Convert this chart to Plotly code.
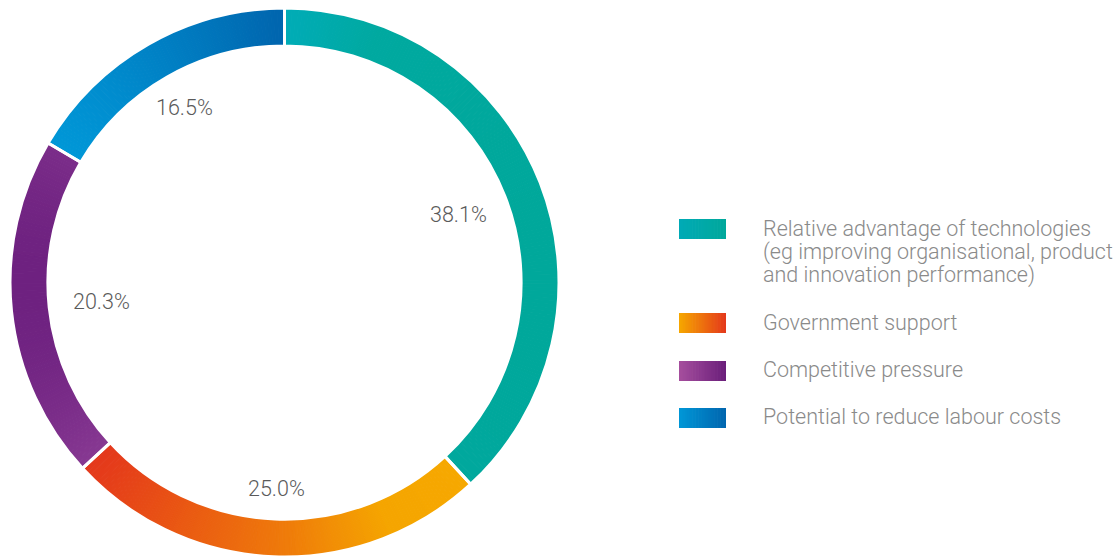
import numpy as np
import plotly.graph_objects as go

# ---- data -------------------------------------------------------------
categories = [
    "Relative advantage of technologies (eg improving organisational, product and innovation performance)",
    "Government support",
    "Competitive pressure",
    "Potential to reduce labour costs",
]
legend_lines = [
    ["Relative advantage of technologies",
     "(eg improving organisational, product",
     "and innovation performance)"],
    ["Government support"],
    ["Competitive pressure"],
    ["Potential to reduce labour costs"],
]
shares = [38.1, 25.0, 20.3, 16.5]

# ---- styling ----------------------------------------------------------
W, H = 1118, 557
CX, CY, R = 284.5, 282.5, 274.5          # donut centre / outer radius (px)
HOLE = 0.862

# horizontal colour ramps used on the ring (t = 0 at the left-most point)
ring_stops = [
    [(0.0, "#00acb7"), (0.35, "#00a9a0"), (1.0, "#00a89b")],
    [(0.0, "#e4381b"), (0.25, "#ea5a12"), (0.53, "#ef7c0a"), (0.8, "#f5a500"), (1.0, "#f6a800")],
    [(0.0, "#6e2180"), (1.0, "#873892")],
    [(0.0, "#0097d7"), (1.0, "#0065ae")],
]
# ramps used on the legend swatches (left -> right)
swatch_stops = [
    [(0.0, "#00aab6"), (1.0, "#00a89b")],
    [(0.0, "#f6a800"), (1.0, "#e4381b")],
    [(0.0, "#a64f9e"), (1.0, "#6a1e7a")],
    [(0.0, "#0097d7"), (1.0, "#0065ae")],
]
label_radius = [187, 206, 184, 202]        # px from centre for the % labels
swatch_top = [219, 313, 361, 408]           # px
text_mid = [[228.5, 251.5, 274.5], [322], [369.5], [416.5]]


def hex_rgb(h):
    h = h.lstrip("#")
    return np.array([int(h[i:i + 2], 16) for i in (0, 2, 4)], dtype=float)


def ramp(stops, t):
    t = min(max(t, 0.0), 1.0)
    for (t0, c0), (t1, c1) in zip(stops[:-1], stops[1:]):
        if t <= t1:
            f = 0 if t1 == t0 else (t - t0) / (t1 - t0)
            c = hex_rgb(c0) * (1 - f) + hex_rgb(c1) * f
            return "rgb(%d,%d,%d)" % tuple(np.round(c))
    c = hex_rgb(stops[-1][1])
    return "rgb(%d,%d,%d)" % tuple(c)


def px(x):
    return x / W


def py(y):
    return 1 - y / H


total = sum(shares)
domain = dict(x=[px(CX - R), px(CX + R)], y=[0, (2 * R) / H])

# ---- gradient ring: each share drawn as many thin wedges ---------------
STEP = 0.2
sub_vals, sub_cols = [], []
start = 0.0
for v, stops in zip(shares, ring_stops):
    n = max(2, int(round(v / STEP)))
    piece = v / n
    mids = [np.sin(2 * np.pi * (start + (k + 0.5) * piece) / total) for k in range(n)]
    lo, hi = min(mids), max(mids)
    for m in mids:
        sub_vals.append(piece)
        sub_cols.append(ramp(stops, (m - lo) / (hi - lo)))
    start += v

fig = go.Figure()
fig.add_trace(go.Pie(
    values=sub_vals,
    sort=False, direction="clockwise", rotation=0,
    hole=HOLE, domain=domain,
    marker=dict(colors=sub_cols, line=dict(color=sub_cols, width=1)),
    textinfo="none", hoverinfo="skip", showlegend=False,
))
# outline layer with the real shares: white dividers between categories
fig.add_trace(go.Pie(
    labels=categories, values=shares,
    sort=False, direction="clockwise", rotation=0,
    hole=HOLE, domain=domain,
    marker=dict(colors=["rgba(0,0,0,0)"] * len(shares),
                line=dict(color="white", width=3)),
    textinfo="none", hovertemplate="%{label}: %{value:.1f}%<extra></extra>",
    showlegend=False,
))

# ---- percentage labels inside the hole ---------------------------------
annotations = []
start = 0.0
for v, rl in zip(shares, label_radius):
    theta = 2 * np.pi * (start + v / 2) / total
    x = CX + rl * np.sin(theta)
    y = CY - rl * np.cos(theta)
    annotations.append(dict(
        x=px(x), y=py(y), xref="paper", yref="paper",
        text=f"{v:.1f}%", showarrow=False, xanchor="center", yanchor="middle",
        font=dict(family="Roboto", size=21.5, color="#5a5a5a", weight=300),
    ))
    start += v

# ---- legend: gradient swatches + text ----------------------------------
shapes = []
SW_X0, SW_W, SW_H, STRIPS = 679, 47, 20, 32
for top, stops in zip(swatch_top, swatch_stops):
    w = SW_W / STRIPS
    for j in range(STRIPS):
        x0 = SW_X0 + j * w
        x1 = min(x0 + w + 0.7, SW_X0 + SW_W)
        shapes.append(dict(
            type="rect", xref="paper", yref="paper",
            x0=px(x0), x1=px(x1), y0=py(top + SW_H), y1=py(top),
            fillcolor=ramp(stops, (j + 0.5) / STRIPS), line=dict(width=0),
            layer="above",
        ))

for lines, mids in zip(legend_lines, text_mid):
    for line, ym in zip(lines, mids):
        annotations.append(dict(
            x=px(761), y=py(ym), xref="paper", yref="paper",
            text=line, showarrow=False, xanchor="left", yanchor="middle",
            font=dict(family="Roboto", size=21.5, color="#8a8a8a", weight=300),
        ))

fig.update_layout(
    width=W, height=H,
    margin=dict(l=0, r=0, t=0, b=0),
    paper_bgcolor="white", plot_bgcolor="white",
    showlegend=False,
    shapes=shapes, annotations=annotations,
)

fig.write_html("out.html")
